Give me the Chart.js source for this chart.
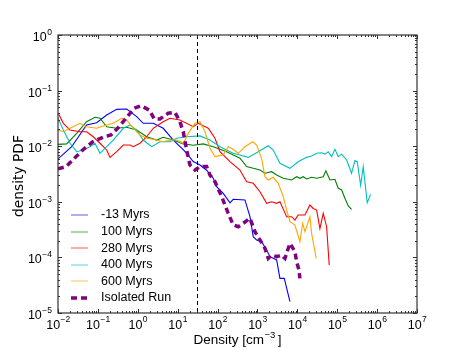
<!DOCTYPE html>
<html>
<head>
<meta charset="utf-8">
<script src="https://cdn.jsdelivr.net/npm/chart.js@4.4.0/dist/chart.umd.min.js"></script>
<style>html,body{margin:0;padding:0;background:#fff}</style>
</head>
<body>
<canvas id="pdfChart" width="463" height="348"></canvas>
<script>
  // series: density [cm^-3] and PDF value
  const seriesNames = ["-13 Myrs", "100 Myrs", "280 Myrs", "400 Myrs", "600 Myrs", "Isolated Run"];
  const seriesColors = ["#0000ff", "#008000", "#ff0000", "#00bfbf", "#ffa500", "#800080"];

  const dens_m13 = [0.01, 0.022, 0.052, 0.093, 0.166, 0.296, 0.527, 0.94, 1.37, 2.44, 4.35, 7.76, 12.6, 16.8, 24.6, 36.2, 53.3, 78, 95, 139, 205, 247, 486, 649, 785, 955, 1270, 1700, 2060, 3030, 3660, 4700, 6530];
  const pdf_m13 = [5.9e-3, 9.8e-3, 0.024, 0.0265, 0.0364, 0.046, 0.0467, 0.034, 0.0258, 0.0258, 0.021, 0.0129, 9.2e-3, 7.4e-3, 5.3e-3, 4.6e-3, 3.7e-3, 2.65e-3, 1.87e-3, 1.42e-3, 9.6e-4, 1.11e-3, 1.08e-3, 5.4e-4, 2.36e-4, 2.05e-4, 1.92e-4, 1.36e-4, 1.03e-4, 9.0e-5, 4.2e-5, 4.2e-5, 1.6e-5];

  const dens_100 = [0.01, 0.0165, 0.0294, 0.052, 0.0846, 0.113, 0.166, 0.296, 0.527, 0.94, 1.67, 2.98, 4.35, 7.76, 13.8, 24.6, 43.8, 78, 169, 364, 536, 785, 1156, 1540, 2270, 3030, 4430, 7200, 9600, 11600, 14060, 17100, 22800, 30500, 44600, 52100, 65600, 87500, 1.06e5, 1.29e5, 1.56e5, 1.89e5, 2.29e5];
  const pdf_100 = [0.0108, 0.011, 0.017, 0.0276, 0.0331, 0.0318, 0.0224, 0.021, 0.0219, 0.0195, 0.0148, 0.0129, 0.0145, 0.0129, 0.011, 0.0104, 0.011, 9.8e-3, 7.96e-3, 6.1e-3, 4.3e-3, 4.0e-3, 3.73e-3, 3.26e-3, 3.48e-3, 3.03e-3, 2.65e-3, 2.47e-3, 2.83e-3, 2.65e-3, 2.83e-3, 2.57e-3, 2.76e-3, 2.65e-3, 2.83e-3, 3.62e-3, 2.47e-3, 2.54e-3, 1.75e-3, 1.63e-3, 1.16e-3, 8.4e-4, 7.3e-4];

  const dens_280 = [0.01, 0.0136, 0.02, 0.0356, 0.052, 0.0767, 0.113, 0.166, 0.201, 0.296, 0.433, 0.638, 0.771, 1.135, 1.67, 2.44, 4.35, 6.41, 11.4, 24.6, 32.8, 58.5, 86, 115, 205, 364, 536, 785, 1156, 1700, 2270, 3030, 3660, 5400, 7200, 8710, 10500, 15500, 20700, 25000, 30500, 36800, 44600, 54200, 63000];
  const pdf_280 = [0.0401, 0.0258, 0.0195, 0.0182, 0.0182, 0.0148, 0.0113, 8.55e-3, 6.3e-3, 7.96e-3, 0.0105, 0.0105, 9.8e-3, 0.0113, 0.0148, 0.021, 0.0276, 0.0318, 0.0296, 0.0224, 0.0258, 0.021, 0.0139, 7.96e-3, 5.26e-3, 3.73e-3, 2.3e-3, 2.15e-3, 1.52e-3, 9.4e-4, 1.0e-3, 9.4e-4, 1.0e-3, 5.4e-4, 5.4e-4, 4.7e-4, 5.8e-4, 5.8e-4, 8.75e-4, 7.6e-4, 7.1e-4, 3.3e-4, 6.2e-4, 3.56e-4, 7.3e-5];

  const dens_400 = [0.01, 0.0136, 0.02, 0.0294, 0.043, 0.0634, 0.0846, 0.113, 0.166, 0.243, 0.433, 0.638, 0.94, 1.37, 2.23, 3.6, 6.41, 9.44, 16.8, 36.2, 64.6, 115, 247, 364, 588, 1047, 1866, 2490, 3660, 6530, 10500, 17100, 22800, 30500, 40600, 49200, 59500, 72400, 87500, 1.06e5, 1.29e5, 1.72e5, 2.29e5, 2.78e5, 3.17e5, 3.86e5, 4.49e5, 5.65e5, 6.87e5];
  const pdf_400 = [0.0318, 0.0195, 0.0113, 7.96e-3, 8.55e-3, 9.8e-3, 0.0113, 7.45e-3, 9.8e-3, 0.0129, 0.021, 0.024, 0.0195, 0.0129, 9.8e-3, 0.012, 0.012, 0.0139, 0.0148, 0.0153, 0.0129, 9.8e-3, 7.45e-3, 6.95e-3, 6.3e-3, 7.96e-3, 0.0102, 8.55e-3, 4.92e-3, 4.0e-3, 5.26e-3, 6.3e-3, 6.67e-3, 7.45e-3, 7.6e-3, 7.2e-3, 7.96e-3, 6.5e-3, 8.8e-3, 6.5e-3, 7.2e-3, 5.65e-3, 3.26e-3, 5.5e-3, 5.26e-3, 2.0e-3, 4.3e-3, 9.6e-4, 1.36e-3];

  const dens_600 = [0.01, 0.0136, 0.02, 0.0356, 0.052, 0.093, 0.136, 0.243, 0.394, 0.527, 0.771, 1.135, 1.67, 2.44, 4.35, 6.41, 9.44, 13.8, 18.4, 27.2, 36.2, 48.3, 64.6, 86, 139, 185, 225, 330, 486, 758, 955, 1270, 1540, 1866, 2490, 3320, 4430, 5400, 6530, 8710, 11600, 13600, 15500, 20700, 22800, 29800];
  const pdf_600 = [0.0195, 0.0182, 0.021, 0.0258, 0.0224, 0.021, 0.0231, 0.0258, 0.0318, 0.0296, 0.021, 0.0159, 0.0139, 0.0133, 0.012, 0.0129, 0.0129, 0.0113, 0.017, 0.0258, 0.0276, 0.0182, 9.2e-3, 6.5e-3, 6.95e-3, 9.8e-3, 9.2e-3, 7.45e-3, 9.8e-3, 0.012, 0.0105, 6.06e-3, 2.83e-3, 2.47e-3, 2.76e-3, 2.15e-3, 1.24e-3, 7.1e-4, 4.4e-4, 3.83e-4, 1.92e-4, 4.1e-4, 2.9e-4, 5.4e-4, 2.7e-4, 9.6e-5];

  const dens_iso = [0.01, 0.0159, 0.0233, 0.0416, 0.074, 0.145, 0.213, 0.313, 0.506, 0.817, 1.2, 1.94, 2.59, 3.6, 5.81, 8.55, 11.4, 13.8, 16.8, 20.3, 27.2, 36.2, 53.3, 64.6, 86, 127, 185, 247, 330, 441, 649, 865, 1156, 1540, 1866, 2270, 3030, 4040, 4890, 6530, 8710, 9600, 11000, 11600];
  const pdf_iso = [3.9e-3, 4.3e-3, 5.65e-3, 8.55e-3, 0.012, 0.0148, 0.0159, 0.021, 0.0318, 0.0481, 0.0535, 0.0448, 0.0309, 0.0309, 0.0391, 0.0407, 0.0276, 0.0182, 8.55e-3, 4.6e-3, 3.73e-3, 4.3e-3, 4.3e-3, 3.03e-3, 2.3e-3, 1.24e-3, 6.2e-4, 3.83e-4, 3.56e-4, 4.1e-4, 5.05e-4, 2.9e-4, 2.06e-4, 1.46e-4, 9.6e-5, 1.1e-4, 1.03e-4, 1.1e-4, 9.6e-5, 1.79e-4, 1.27e-4, 8.4e-5, 5.9e-5, 4.2e-5];

  const xTickVals = [1e-2, 1e-1, 1e0, 1e1, 1e2, 1e3, 1e4, 1e5, 1e6, 1e7];
  const yTickVals = [1e-5, 1e-4, 1e-3, 1e-2, 1e-1, 1e0];
  const thresholdDensity = 30;

  const allDens = [dens_m13, dens_100, dens_280, dens_400, dens_600, dens_iso];
  const allPdf = [pdf_m13, pdf_100, pdf_280, pdf_400, pdf_600, pdf_iso];

  const FONT = "'Liberation Sans', Arial, sans-serif";

  function expText(v) {
    return String(Math.round(Math.log10(v))).replace("-", "\u2212");
  }

  const datasets = seriesNames.map((name, i) => {
    const isIso = i === 5;
    return {
      label: name,
      data: allDens[i].map((d, j) => ({x: d, y: allPdf[i][j]})),
      borderColor: seriesColors[i],
      backgroundColor: seriesColors[i],
      borderWidth: isIso ? 3.5 : 1.1,
      borderDash: isIso ? [6, 4] : [],
      pointRadius: 0,
      fill: false,
      tension: 0,
      order: 6 - i
    };
  });

  // frame, inward ticks, tick labels, titles, threshold line and legend (matplotlib look)
  const decorPlugin = {
    id: "decor",
    afterDatasetsDraw(chart) {
      const ctx = chart.ctx;
      const a = chart.chartArea;
      const xs = chart.scales.x, ys = chart.scales.y;
      ctx.save();

      // threshold line
      const tx = Math.round(xs.getPixelForValue(thresholdDensity)) + 0.5;
      ctx.strokeStyle = "#000";
      ctx.lineWidth = 1;
      ctx.setLineDash([4, 3]);
      ctx.beginPath();
      ctx.moveTo(tx, a.top);
      ctx.lineTo(tx, a.bottom);
      ctx.stroke();
      ctx.setLineDash([]);

      // ticks
      ctx.strokeStyle = "#333";
      ctx.beginPath();
      for (let e = -2; e <= 7; e++) {
        for (let m = 1; m <= 9; m++) {
          const v = m * Math.pow(10, e);
          if (v > 1e7) break;
          const px = Math.round(xs.getPixelForValue(v)) + 0.5;
          const len = m === 1 ? 4 : 2;
          ctx.moveTo(px, a.bottom); ctx.lineTo(px, a.bottom - len);
          ctx.moveTo(px, a.top); ctx.lineTo(px, a.top + len);
        }
      }
      for (let e = -5; e <= 0; e++) {
        for (let m = 1; m <= 9; m++) {
          const v = m * Math.pow(10, e);
          if (v > 1) break;
          const py = Math.round(ys.getPixelForValue(v)) + 0.5;
          const len = m === 1 ? 4 : 2;
          ctx.moveTo(a.left, py); ctx.lineTo(a.left + len, py);
          ctx.moveTo(a.right, py); ctx.lineTo(a.right - len, py);
        }
      }
      ctx.stroke();

      // frame
      ctx.lineWidth = 1.2;
      ctx.strokeRect(a.left, a.top, a.right - a.left, a.bottom - a.top);

      // tick labels 10^n
      const baseFont = "12.5px " + FONT, supFont = "8.5px " + FONT;
      ctx.fillStyle = "#000";
      ctx.textBaseline = "alphabetic";
      ctx.textAlign = "left";
      xTickVals.forEach(v => {
        const px = xs.getPixelForValue(v);
        const ex = expText(v);
        ctx.font = baseFont; const w1 = ctx.measureText("10").width;
        ctx.font = supFont; const w2 = ctx.measureText(ex).width;
        const x0 = px - (w1 + w2) / 2;
        ctx.font = baseFont; ctx.fillText("10", x0, a.bottom + 16);
        ctx.font = supFont; ctx.fillText(ex, x0 + w1 + 0.5, a.bottom + 9);
      });
      yTickVals.forEach(v => {
        const py = ys.getPixelForValue(v);
        const ex = expText(v);
        ctx.font = baseFont; const w1 = ctx.measureText("10").width;
        ctx.font = supFont; const w2 = ctx.measureText(ex).width;
        const x0 = a.left - 6 - w1 - w2 - 0.5;
        ctx.font = baseFont; ctx.fillText("10", x0, py + 6);
        ctx.font = supFont; ctx.fillText(ex, x0 + w1 + 0.5, py);
      });

      // axis titles
      const tFont = "13.5px " + FONT;
      ctx.font = tFont;
      const t1 = "Density [cm", t3 = "]";
      const w1 = ctx.measureText(t1).width, w3 = ctx.measureText(t3).width;
      ctx.font = "9.5px " + FONT;
      const sup = "\u22123";
      const w2 = ctx.measureText(sup).width + 3;
      let xx = (a.left + a.right) / 2 - (w1 + w2 + w3) / 2;
      ctx.font = tFont; ctx.fillText(t1, xx, 344);
      ctx.font = "9.5px " + FONT; ctx.fillText(sup, xx + w1 + 0.5, 338);
      ctx.font = tFont; ctx.fillText(t3, xx + w1 + w2, 344);

      ctx.save();
      ctx.translate(19.5, (a.top + a.bottom) / 2 + 2);
      ctx.rotate(-Math.PI / 2);
      ctx.font = "13.8px 'DejaVu Sans', sans-serif";
      ctx.textAlign = "center";
      ctx.textBaseline = "middle";
      ctx.fillText("density PDF", 0, 0);
      ctx.restore();

      // legend in lower left of the plot
      ctx.font = "12.5px " + FONT;
      ctx.textBaseline = "middle";
      ctx.textAlign = "left";
      seriesNames.forEach((name, i) => {
        const y = 215 + i * 16.6;
        const ds = chart.data.datasets[i];
        ctx.strokeStyle = ds.borderColor;
        ctx.lineWidth = ds.borderWidth;
        ctx.globalAlpha = i === 5 ? 1 : 0.6;
        ctx.setLineDash(ds.borderDash);
        ctx.beginPath();
        ctx.moveTo(71, Math.round(y));
        ctx.lineTo(88, Math.round(y));
        ctx.stroke();
        ctx.setLineDash([]);
        ctx.globalAlpha = 1;
        ctx.fillStyle = "#000";
        ctx.fillText(name, 101, y);
      });
      ctx.restore();
    }
  };

  const config = {
    type: "line",
    data: { datasets: datasets },
    options: {
      responsive: false,
      animation: false,
      devicePixelRatio: 1,
      layout: { padding: { top: 35, right: 46, left: 0, bottom: 0 } },
      plugins: { legend: { display: false }, tooltip: { enabled: false } },
      scales: {
        x: {
          type: "logarithmic",
          min: 1e-2,
          max: 1e7,
          afterBuildTicks: s => { s.ticks = xTickVals.map(v => ({value: v})); },
          afterFit: s => { s.height = 35; },
          grid: { display: false },
          border: { display: false },
          ticks: { display: false }
        },
        y: {
          type: "logarithmic",
          min: 1e-5,
          max: 1,
          afterBuildTicks: s => { s.ticks = yTickVals.map(v => ({value: v})); },
          afterFit: s => { s.width = 58; },
          grid: { display: false },
          border: { display: false },
          ticks: { display: false }
        }
      }
    },
    plugins: [decorPlugin]
  };

  var pdfChart = new Chart(document.getElementById("pdfChart"), config);
</script>
</body>
</html>
